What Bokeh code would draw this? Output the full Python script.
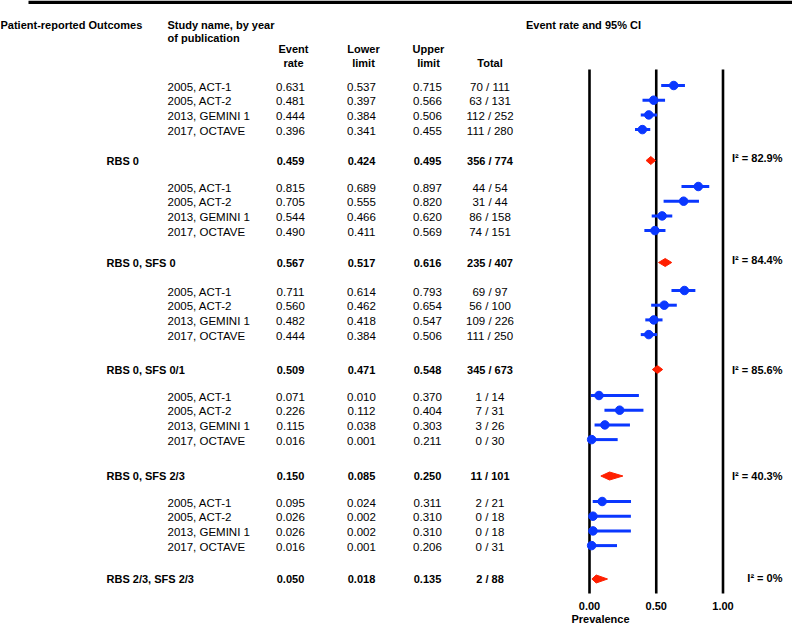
from bokeh.plotting import figure
from bokeh.models import Range1d
from bokeh.embed import file_html
from bokeh.resources import INLINE
from bokeh.core.properties import value

# ---------------- data ----------------
studies = ["2005, ACT-1", "2005, ACT-2", "2013, GEMINI 1", "2017, OCTAVE"]
groups = ["RBS 0", "RBS 0, SFS 0", "RBS 0, SFS 0/1", "RBS 0, SFS 2/3", "RBS 2/3, SFS 2/3"]
rate = [[0.631, 0.481, 0.444, 0.396],
        [0.815, 0.705, 0.544, 0.490],
        [0.711, 0.560, 0.482, 0.444],
        [0.071, 0.226, 0.115, 0.016],
        [0.095, 0.026, 0.026, 0.016]]
lower = [[0.537, 0.397, 0.384, 0.341],
         [0.689, 0.555, 0.466, 0.411],
         [0.614, 0.462, 0.418, 0.384],
         [0.010, 0.112, 0.038, 0.001],
         [0.024, 0.002, 0.002, 0.001]]
upper = [[0.715, 0.566, 0.506, 0.455],
         [0.897, 0.820, 0.620, 0.569],
         [0.793, 0.654, 0.547, 0.506],
         [0.370, 0.404, 0.303, 0.211],
         [0.311, 0.310, 0.310, 0.206]]
events = [[70, 63, 112, 111],
          [44, 31, 86, 74],
          [69, 56, 109, 111],
          [1, 7, 3, 0],
          [2, 0, 0, 0]]
totals = [[111, 131, 252, 280],
          [54, 44, 158, 151],
          [97, 100, 226, 250],
          [14, 31, 26, 30],
          [21, 18, 18, 31]]
pooled_rate = [0.459, 0.567, 0.509, 0.150, 0.050]
pooled_lower = [0.424, 0.517, 0.471, 0.085, 0.018]
pooled_upper = [0.495, 0.616, 0.548, 0.250, 0.135]
pooled_events = [356, 235, 345, 11, 2]
pooled_totals = [774, 407, 673, 101, 88]
i2_values = ["82.9%", "84.4%", "85.6%", "40.3%", "0%"]
ticks = [0.0, 0.5, 1.0]
tick_labels = ["0.00", "0.50", "1.00"]

# ---------------- layout (reference pixel coordinates) ----------------
W, H = 792, 625
PX0, PX1 = 0, W            # horizontal pixel span of the figure
PY0, PY1 = 0, H            # vertical pixel span of the figure
ZERO_PX, UNIT_PX = 589.0, 133.5   # where prevalence 0 sits, px per unit
group_y0 = [85, 186, 290, 395, 501]
row_step = 14.7
summary_y = [160, 262, 369, 475.5, 578.5]
i2_y = [157.5, 259.5, 369, 475.5, 577.5]
vline_top, vline_bottom = 69, 593
tick_label_y = 605
col_study, col_group = 167, 106
col_rate, col_lower, col_upper, col_total = 290, 361, 427, 489.5
diamond_half_h = 4

BLUE = "#0a37ff"
RED = "#ff1f00"
FONT = value("Liberation Sans")
FS = "11.5px"
FS_BOLD = "11px"

p = figure(width=W, height=H, output_backend="svg", toolbar_location=None,
           x_range=Range1d((PX0 - ZERO_PX) / UNIT_PX, (PX1 - ZERO_PX) / UNIT_PX),
           y_range=Range1d(PY1, PY0),
           x_axis_location=None, y_axis_location=None, min_border=0)
p.extra_x_ranges = {"px": Range1d(PX0, PX1)}
p.grid.visible = False
p.outline_line_color = None
p.background_fill_color = "white"
p.border_fill_color = "white"


def txt(x, y, t, align="left", bold=False, rng="px"):
    kw = dict(x=x, y=y, text=t, text_font=FONT,
              text_font_size=FS_BOLD if bold else FS,
              text_align=align, text_baseline="middle", text_color="black",
              text_font_style="bold" if bold else "normal")
    if rng:
        kw["x_range_name"] = rng
    p.text(**kw)


# top rule
p.quad(left=[28], right=[PX1], top=[0], bottom=[3.5], x_range_name="px",
       color="black", line_width=0)

# headers
txt([0], [24], ["Patient-reported Outcomes"], bold=True)
txt([col_study, col_study], [24, 37], ["Study name, by year", "of publication"], bold=True)
txt([col_rate + 3, col_rate + 3], [48, 62], ["Event", "rate"], align="center", bold=True)
txt([col_lower + 2, col_lower + 2], [48, 62], ["Lower", "limit"], align="center", bold=True)
txt([col_upper + 1, col_upper + 1], [48, 62], ["Upper", "limit"], align="center", bold=True)
txt([col_total], [62], ["Total"], align="center", bold=True)
txt([583], [24], ["Event rate and 95% CI"], align="center", bold=True)

# reference lines
p.segment(x0=ticks, x1=ticks, y0=[vline_bottom] * 3, y1=[vline_top] * 3,
          line_color="black", line_width=2.6)

for g in range(len(groups)):
    ys = [group_y0[g] + i * row_step for i in range(len(studies))]
    ty = [y + 1 for y in ys]
    txt([col_study] * 4, ty, studies)
    txt([col_rate] * 4, ty, [f"{v:.3f}" for v in rate[g]], align="center")
    txt([col_lower] * 4, ty, [f"{v:.3f}" for v in lower[g]], align="center")
    txt([col_upper] * 4, ty, [f"{v:.3f}" for v in upper[g]], align="center")
    txt([col_total] * 4, ty, [f"{e} / {n}" for e, n in zip(events[g], totals[g])], align="center")

    p.segment(x0=lower[g], x1=upper[g], y0=ys, y1=ys, line_color=BLUE, line_width=3)
    p.scatter(x=rate[g], y=ys, size=8.5, marker="circle", fill_color=BLUE, line_color=BLUE)

    sy = summary_y[g]
    txt([col_group], [sy], [groups[g]], bold=True)
    txt([col_rate], [sy], [f"{pooled_rate[g]:.3f}"], align="center", bold=True)
    txt([col_lower], [sy], [f"{pooled_lower[g]:.3f}"], align="center", bold=True)
    txt([col_upper], [sy], [f"{pooled_upper[g]:.3f}"], align="center", bold=True)
    txt([col_total], [sy], [f"{pooled_events[g]} / {pooled_totals[g]}"], align="center", bold=True)

    lo, est, hi = pooled_lower[g], pooled_rate[g], pooled_upper[g]
    p.patches(xs=[[lo, est, hi, est]],
              ys=[[sy, sy - diamond_half_h, sy, sy + diamond_half_h]],
              fill_color=RED, line_color=RED, line_width=1)

    txt([782], [i2_y[g]], [f"I\u00b2 = {i2_values[g]}"], align="right", bold=True)

# tick labels on the prevalence scale
txt(ticks, [tick_label_y] * 3, tick_labels, align="center", bold=True, rng=None)
txt([600], [618], ["Prevalence"], align="center", bold=True)

open("out.html", "w").write(file_html(p, INLINE))
